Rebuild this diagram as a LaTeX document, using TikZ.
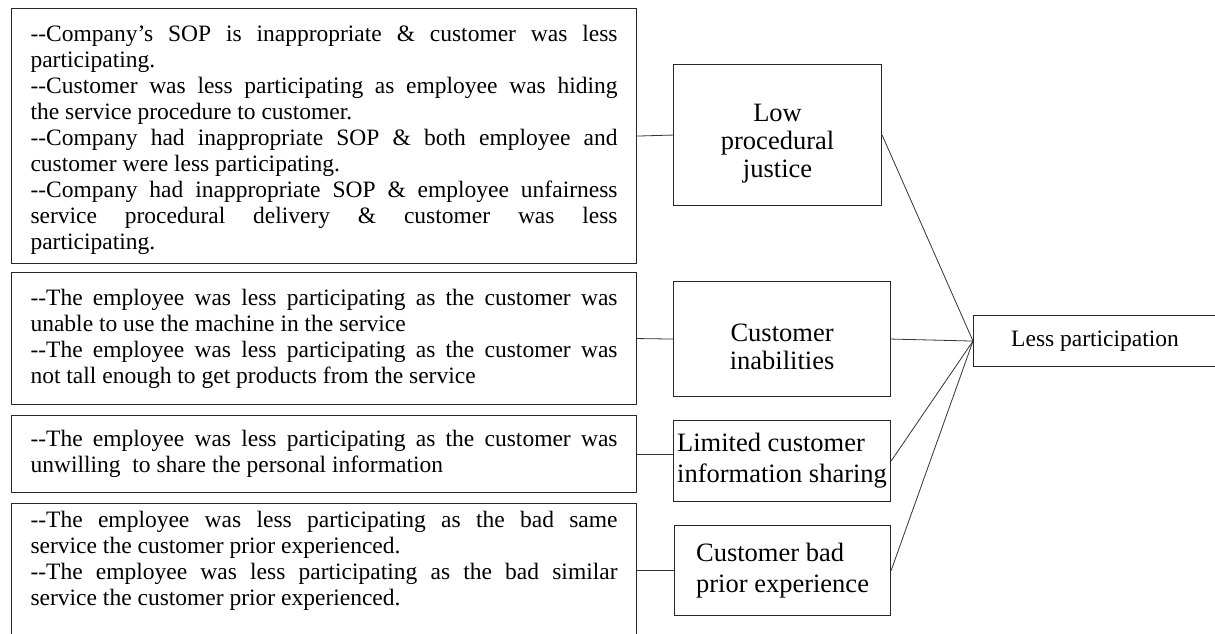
\documentclass[tikz,border=0pt]{standalone}
\usepackage{fontspec}
\setmainfont{Liberation Serif}

\begin{document}
\begin{tikzpicture}[x=1pt,y=-1pt,
	reasonBox/.style={draw=black!85, line width=1.1pt, anchor=north west, text width=587pt, inner xsep=19pt, inner ysep=8pt, align=justify, font=\fontsize{23.5}{26}\selectfont},
	factorBox/.style={draw=black!85, line width=1.1pt, anchor=north west, font=\fontsize{26.5}{28}\selectfont},
	link/.style={draw=black!80, line width=0.8pt}]

\newcommand{\twoDash}{-\kern0pt-}

\useasboundingbox (0,0) rectangle (1215,633);

% reasons on the left
\node[reasonBox, minimum height=255pt] (sopBox) at (11,8) {%
	\rule{0pt}{24pt}\twoDash Company’s SOP is inappropriate \& customer was less\linebreak participating.\newline
	\twoDash Customer was less participating as employee was hiding\linebreak the service procedure to customer.\newline
	\twoDash Company had inappropriate SOP \& both employee and\linebreak customer were less participating.\newline
	\twoDash Company had inappropriate SOP \& employee unfairness\linebreak service procedural delivery \& customer was less\linebreak participating.};
\node[reasonBox, minimum height=132pt] (machineBox) at (11,272) {%
	\twoDash The employee was less participating as the customer was\linebreak unable to use the machine in the service\newline
	\twoDash The employee was less participating as the customer was\linebreak not tall enough to get products from the service};
\node[reasonBox, minimum height=77pt] (shareBox) at (11,415) {%
	\twoDash The employee was less participating as the customer was\linebreak unwilling\ \ to share the personal information};
\node[reasonBox] (pastBox) at (11,503) {%
	\twoDash The employee was less participating as the bad same\linebreak service the customer prior experienced.\newline
	\twoDash The employee was less participating as the bad similar\linebreak service the customer prior experienced.\rule[-40pt]{0pt}{40pt}}; % runs off the bottom

% factors
\node[factorBox, minimum width=208pt, minimum height=141pt, align=center] (lowJustice) at (673,64) {\rule{0pt}{35pt}Low\\procedural\\justice};
\node[factorBox, minimum width=217pt, minimum height=115pt, align=center] (inability) at (673,281) {\rule{0pt}{33pt}Customer\\inabilities};
\node[factorBox, minimum width=217pt, minimum height=81pt, align=left, inner xsep=2pt, font=\fontsize{26.5}{31}\selectfont] (infoSharing) at (673,420) {Limited customer\\information sharing};
\node[factorBox, minimum width=216pt, minimum height=90pt, align=left, font=\fontsize{26.5}{31}\selectfont] (priorExp) at (674,525) {Customer bad\\prior experience};

\node[factorBox, minimum width=243pt, minimum height=51pt, font=\fontsize{23.5}{26}\selectfont] (lessPart) at (973,315) {Less participation};

\draw[link] (sopBox.east) -- (lowJustice.west);
\draw[link] (machineBox.east) -- (inability.west);
\draw[link] (shareBox.east) -- (shareBox.east -| infoSharing.west);
\draw[link] (priorExp.west -| pastBox.east) -- (priorExp.west);

\foreach \f in {lowJustice,inability,infoSharing,priorExp}
	\draw[link] (\f.east) -- (lessPart.west);

\end{tikzpicture}
\end{document}
